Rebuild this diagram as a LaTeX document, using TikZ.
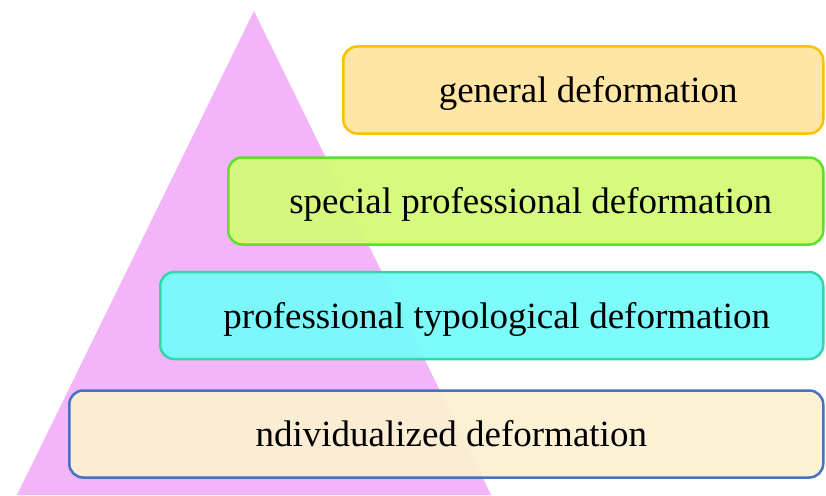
\documentclass[tikz,border=0pt]{standalone}
\usepackage{fontspec}
\setmainfont{Liberation Serif}
\usepackage{tikz}
\usetikzlibrary{positioning}
\definecolor{PyrPink}{HTML}{F3B4F9}
\definecolor{LevOrangeFill}{HTML}{FFE5A0}
\definecolor{LevOrangeLine}{HTML}{FFC000}
\definecolor{LevGreenFill}{HTML}{D4FA78}
\definecolor{LevGreenLine}{HTML}{5CE12A}
\definecolor{LevCyanFill}{HTML}{78FAFA}
\definecolor{LevCyanLine}{HTML}{33D6A6}
\definecolor{LevSandFill}{HTML}{FCEFD3}
\definecolor{LevBlueLine}{HTML}{4472C4}

\begin{document}
\begin{tikzpicture}[
  x=1pt,y=1pt,
  every node/.style={font=\fontsize{37}{44}\selectfont,align=center},
  level/.style={rounded corners=14pt,line width=2.5pt,fill opacity=0.96,text opacity=1,
    minimum height=87pt,inner sep=0pt,anchor=east,text height=33pt,text depth=8pt,
    execute at begin node={\hspace*{10pt}}},
  pyramid/.style={fill=PyrPink,draw=none}
]
  \useasboundingbox (0,0) rectangle (826,-495);
  % pyramid behind the levels
  \coordinate (apex) at (254,-11);
  \coordinate (baseL) at (17,-495);
  \coordinate (baseR) at (491,-495);
  \fill[pyramid] (apex) -- (baseL) -- (baseR) -- cycle;

  \node[level,draw=LevOrangeLine,fill=LevOrangeFill,minimum width=480pt] (general) at (824.5,-90) {general deformation};
  \node[level,draw=LevGreenLine,fill=LevGreenFill,minimum width=595pt] (special) at (824.5,-201) {special professional deformation};
  \node[level,draw=LevCyanLine,fill=LevCyanFill,minimum width=663pt] (typol) at (824.5,-315.5) {professional typological deformation};
  \node[level,draw=LevBlueLine,fill=LevSandFill,minimum width=754pt] (indiv) at (824.5,-434) {ndividualized deformation};
\end{tikzpicture}
\end{document}
